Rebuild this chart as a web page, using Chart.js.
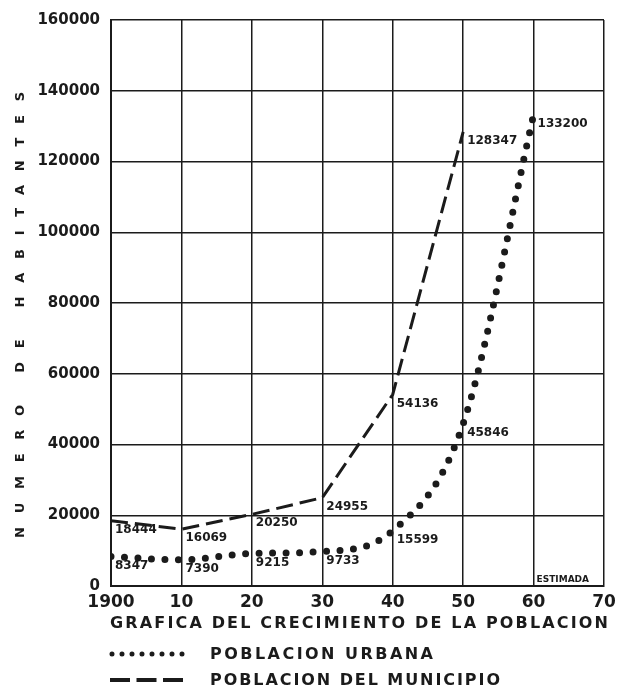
<!DOCTYPE html>
<html>
<head>
<meta charset="utf-8">
<script src="https://cdn.jsdelivr.net/npm/chart.js@4"></script>
<style>
  html, body { margin: 0; padding: 0; background: #fff; }
</style>
</head>
<body>
<canvas id="grafica" width="625" height="688"></canvas>
<script>
// Datos del censo (1960 estimado)
const anios = [1900, 1910, 1920, 1930, 1940, 1950, 1960];
const poblacionUrbana = [8347, 7390, 9215, 9733, 15599, 45846, 133200];
const poblacionMunicipio = [18444, 16069, 20250, 24955, 54136, 128347];
const etiquetasAnio = ['1900', '10', '20', '30', '40', '50', '60', '70'];

const tituloEjeY = 'NUMERO DE HABITANTES';
const tituloGrafica = 'GRAFICA DEL CRECIMIENTO DE LA POBLACION';
const nombresSeries = ['POBLACION URBANA', 'POBLACION DEL MUNICIPIO'];
const notaEstimada = 'ESTIMADA';

const tinta = '#1b1b1b';
const fuente = '"DejaVu Sans", sans-serif';

function puntos(valores) {
  return valores.map((v, i) => ({ x: anios[i], y: v }));
}

// escribe un texto estirando el espaciado hasta ocupar el ancho dado
function textoAjustado(ctx, texto, x, y, ancho) {
  ctx.letterSpacing = '0px';
  const w = ctx.measureText(texto).width;
  const s = (ancho - w) / (texto.length - 1);
  ctx.letterSpacing = s + 'px';
  ctx.fillText(texto, x, y);
  ctx.letterSpacing = '0px';
}

const rotulos = {
  id: 'rotulos',
  afterDatasetsDraw(chart) {
    const { ctx, chartArea } = chart;
    const x = chart.scales.x, y = chart.scales.y;
    ctx.save();
    ctx.fillStyle = tinta;
    ctx.textAlign = 'left';
    ctx.textBaseline = 'middle';

    // valor junto a cada punto
    ctx.font = 'bold 12px ' + fuente;
    chart.data.datasets.forEach(ds => {
      ds.data.forEach(p => {
        ctx.fillText(String(p.y), x.getPixelForValue(p.x) + 4, y.getPixelForValue(p.y) + 9);
      });
    });

    // nota en la columna del valor estimado
    ctx.font = 'bold 9px ' + fuente;
    ctx.fillText(notaEstimada, x.getPixelForValue(anios[anios.length - 1]) + 3, chartArea.bottom - 6);

    // titulo vertical del eje Y, letra por letra
    ctx.save();
    ctx.translate(21, 538);
    ctx.rotate(-Math.PI / 2);
    ctx.font = 'bold 13px ' + fuente;
    textoAjustado(ctx, tituloEjeY, 0, 0, 446);
    ctx.restore();

    // titulo y leyenda al pie
    ctx.font = 'bold 16px ' + fuente;
    textoAjustado(ctx, tituloGrafica, 110, 624, 498);
    textoAjustado(ctx, nombresSeries[0], 210, 655, 223);
    textoAjustado(ctx, nombresSeries[1], 210, 681, 290);

    ctx.strokeStyle = tinta;
    ctx.lineWidth = 5;
    ctx.lineCap = 'round';
    ctx.setLineDash([0, 10]);
    ctx.beginPath();
    ctx.moveTo(112, 654);
    ctx.lineTo(184, 654);
    ctx.stroke();

    ctx.lineWidth = 4;
    ctx.lineCap = 'butt';
    ctx.setLineDash([20, 6.5]);
    ctx.beginPath();
    ctx.moveTo(110, 680);
    ctx.lineTo(183, 680);
    ctx.stroke();
    ctx.restore();
  }
};

new Chart(document.getElementById('grafica').getContext('2d'), {
  type: 'line',
  data: {
    datasets: [
      {
        label: nombresSeries[0],
        data: puntos(poblacionUrbana),
        borderColor: tinta,
        borderWidth: 7,
        borderDash: [0, 13.5],
        borderCapStyle: 'round',
        cubicInterpolationMode: 'monotone',
        pointRadius: 0,
        fill: false
      },
      {
        label: nombresSeries[1],
        data: puntos(poblacionMunicipio),
        borderColor: tinta,
        borderWidth: 3,
        borderDash: [17, 7],
        borderCapStyle: 'butt',
        tension: 0,
        pointRadius: 0,
        fill: false
      }
    ]
  },
  options: {
    responsive: false,
    animation: false,
    layout: { padding: { top: 18, right: 21, left: 0, bottom: 0 } },
    plugins: {
      legend: { display: false },
      tooltip: { enabled: false },
      title: { display: false }
    },
    scales: {
      x: {
        type: 'linear',
        min: 1900,
        max: 1970,
        afterFit: s => { s.height = 102; },
        grid: { color: tinta, lineWidth: 1.5, drawTicks: false },
        border: { color: tinta, width: 2 },
        ticks: {
          stepSize: 10,
          padding: 6,
          color: tinta,
          font: { family: fuente, size: 17, weight: 'bold' },
          callback: (v, i) => etiquetasAnio[i]
        }
      },
      y: {
        min: 0,
        max: 160000,
        afterFit: s => { s.width = 111; },
        grid: { color: tinta, lineWidth: 1.5, drawTicks: false },
        border: { color: tinta, width: 2 },
        ticks: {
          stepSize: 20000,
          padding: 11,
          color: tinta,
          font: { family: fuente, size: 15, weight: 'bold' },
          callback: v => String(v)
        }
      }
    }
  },
  plugins: [rotulos]
});
</script>
</body>
</html>
